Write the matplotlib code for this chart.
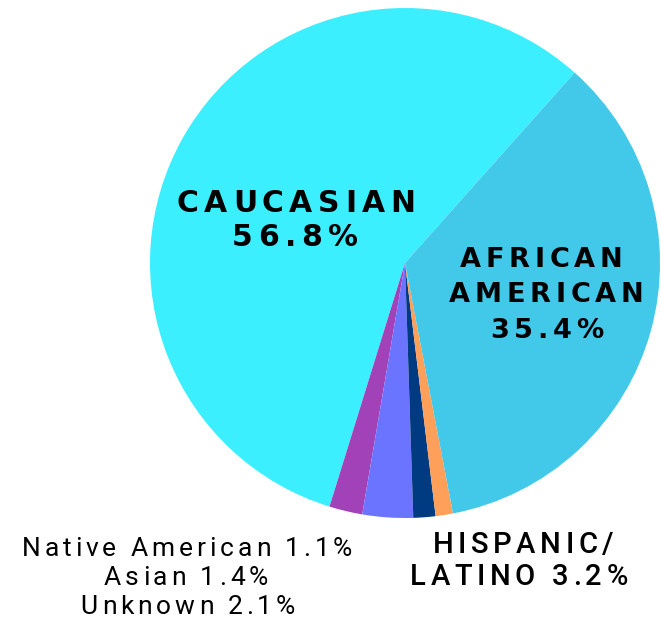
import matplotlib.pyplot as plt
from matplotlib.font_manager import FontProperties

groups = ["Caucasian", "Unknown", "Hispanic/Latino", "Asian", "Native American", "African American"]
shares = [56.8, 2.1, 3.2, 1.4, 1.1, 35.4]
colors = ["#3cefff", "#a142b8", "#6b74ff", "#003a80", "#ffa05a", "#42c8e8"]

W, H = 661, 618
fig = plt.figure(figsize=(W / 100, H / 100), dpi=100)
ax = fig.add_axes([0, 0, 1, 1])

cx, cy, r = 405, H - 263, 255
ax.pie(shares, colors=colors, startangle=48.3, counterclock=True,
       center=(cx, cy), radius=r, wedgeprops=dict(linewidth=0),
       frame=True)
ax.set_xlim(0, W)
ax.set_ylim(0, H)
ax.set_aspect("equal")
ax.axis("off")

renderer = fig.canvas.get_renderer()


def width(s, fp):
    return renderer.get_text_width_height_descent(s, fp, ismath=False)[0]


def tracked(x, y, line, fp, track):
    # letter-spaced line, centred on x, baseline at y (pixels from top)
    ref = width("H", fp)
    total = width(line, fp) + track * (len(line) - 1)
    x0 = x - total / 2
    for i, ch in enumerate(line):
        adv = width(line[:i] + "H", fp) - ref if i else 0
        ax.text(x0 + adv + i * track, H - y, ch, fontproperties=fp,
                ha="left", va="baseline")


def block(xs, y, lines, gap, fp, track):
    for k, line in enumerate(lines):
        tracked(xs[k], y + k * gap, line, fp, track)


bold = FontProperties(family="DejaVu Sans", weight="bold", size=21.5)
block([296, 295], 212, ["CAUCASIAN", "56.8%"], 34, bold, 5.5)

bold_aa = FontProperties(family="DejaVu Sans", weight="bold", size=19.5)
block([541, 546, 547], 267, ["AFRICAN", "AMERICAN", "35.4%"], 35.5, bold_aa, 4.8)

regular = FontProperties(family="Roboto", size=19)
block([187, 186, 188], 556, ["Native American 1.1%", "Asian 1.4%", "Unknown 2.1%"], 29, regular, 3.9)

medium = FontProperties(family="Roboto", weight="medium", size=21)
block([523, 519], 553, ["HISPANIC/", "LATINO 3.2%"], 32, medium, 4.6)

fig.savefig("out.png", dpi=100)
